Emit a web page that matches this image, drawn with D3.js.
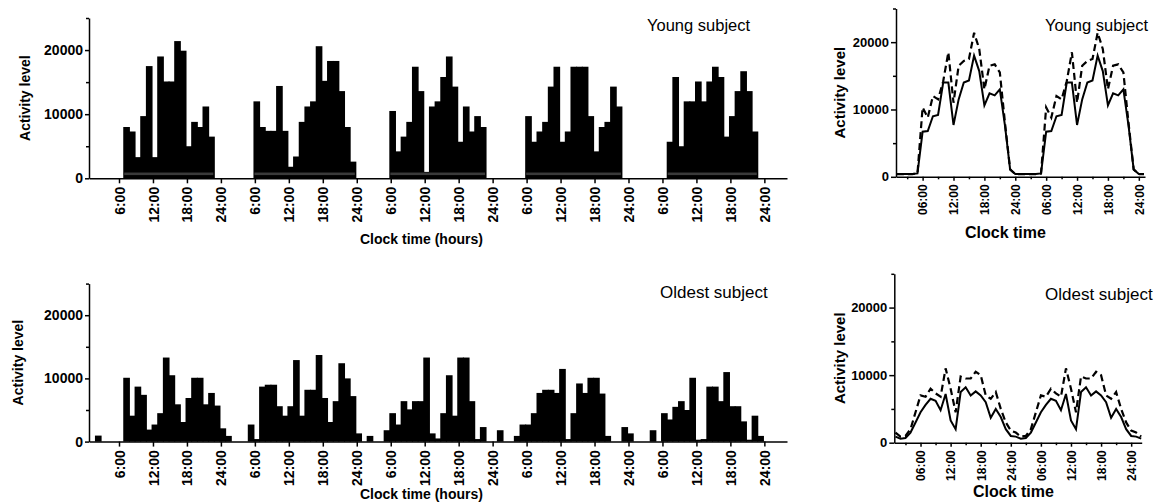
<!DOCTYPE html>
<html>
<head>
<meta charset="utf-8">
<script src="https://cdn.jsdelivr.net/npm/d3@7"></script>
<style>
  body { margin: 0; background: #fff; }
  text { font-family: Arial, "Liberation Sans", sans-serif; }
</style>
</head>
<body>
<div id="chart"></div>
<script>
// hourly activity, one array per day (index = clock hour 0..23)
const youngDay1 = [0,0,0,0,0,0,0,8000,7300,3300,9700,17500,3300,19000,15100,15100,21400,19900,5000,8800,8000,11200,6500,0];
const youngDay2 = [0,0,0,0,0,0,12000,8000,7400,7400,14400,7400,1800,3400,8800,11200,12000,20600,15200,18300,18300,13600,8000,2600];
const youngDay3 = [0,0,0,0,0,0,10500,4200,6500,8800,17400,13600,1000,11200,12000,15800,19000,14300,5700,11200,7300,9700,8000,0];
const youngDay4 = [0,0,0,0,0,0,9700,5700,7300,8800,14300,17400,5700,7300,17400,17400,17400,9700,4200,8000,8800,14300,11200,0];
const youngDay5 = [0,0,0,0,0,0,0,5700,15800,5000,12000,12000,15100,12000,15100,17400,15800,6500,9700,13600,16700,13600,7300,0];

const oldestDay1 = [0,0,950,0,0,0,0,10100,4100,8700,7400,1900,2700,4500,13300,10500,5900,3100,6900,10100,10100,5900,7700,5700];
const oldestDay2 = [2100,900,0,0,0,2700,400,8700,9000,9000,5600,4100,5600,12900,4100,8200,8200,13700,6900,3100,6400,12400,10000,7200];
const oldestDay3 = [1300,0,900,0,0,1800,4500,2700,6400,5100,6400,6400,13300,1300,500,4500,10500,4100,13300,13300,6400,400,2300,0];
const oldestDay4 = [0,1800,0,0,900,2700,2700,4500,7700,8200,8200,7700,11500,400,4500,9200,7700,10100,10100,7600,900,0,0,2300];
const oldestDay5 = [1300,0,0,0,1800,0,4500,3500,5500,6400,5000,10100,300,400,8700,8700,6400,11000,5600,5600,3200,300,4100,900];

// 24h profiles for the right panels (index = clock hour 0..23), plotted twice
const youngSolid  = [400,400,400,400,400,500,6700,6800,9000,9200,14000,14000,7700,11500,14000,14300,18000,15700,10600,12400,12100,13000,7600,1100];
const youngDashed = [400,400,400,400,400,500,10300,8800,12000,11500,14200,18500,11000,16500,17200,17500,21400,19000,13000,16500,16700,15500,8000,1100];
const oldestSolid  = [1000,900,600,700,1500,3000,4500,5600,6500,6200,4800,7200,3300,2000,7500,8200,7000,7600,7000,6000,3700,5000,3800,2000];
const oldestDashed = [1800,1500,900,1000,2000,4500,7000,6800,8000,7300,6800,11000,8000,4500,9800,9500,9500,10500,10000,7000,6500,7500,5000,3000];

const yTicks = [0, 5000, 10000, 15000, 20000, 25000];
const barTicks = d3.range(6, 121, 6);   // every 6 h over 5 days
const lineTicks = d3.range(3, 49, 3);   // every 3 h over 2 days

const youngHourly = youngDay1.concat(youngDay2, youngDay3, youngDay4, youngDay5);
const oldestHourly = oldestDay1.concat(oldestDay2, oldestDay3, oldestDay4, oldestDay5);

const svg = d3.select("#chart").append("svg")
    .attr("width", 1158)
    .attr("height", 502);

function styleAxis(g) {
    g.selectAll("path, line").attr("stroke", "#000").attr("stroke-width", 1.5);
    g.selectAll("text").attr("fill", "#000").attr("font-weight", "bold");
}

// left: hourly bar charts over 5 days
function barPanel(hourly, yBase, yTop, opts) {
    const x = d3.scaleLinear().domain([0.7, 124]).range([89, 787]);
    const y = d3.scaleLinear().domain([0, 25000]).range([yBase, yTop]);
    const g = svg.append("g");

    const bars = hourly.map((v, i) => ({ h: i, v: v })).filter(d => d.v > 0);
    // bars overlap by 1px so no white seams show between neighbours
    g.selectAll("rect.bar")
        .data(bars)
        .enter().append("rect")
        .attr("class", "bar")
        .attr("x", d => x(d.h - 0.25))
        .attr("width", d => x(d.h + 0.75) - x(d.h - 0.25) + 1)
        .attr("y", d => y(d.v))
        .attr("height", d => y(0) - y(d.v))
        .attr("fill", "#000");

    // grey strip near the bottom of each block of bars (young subject)
    if (opts.band) {
        const runs = [];
        hourly.forEach((v, i) => {
            if (v > 0 && (i === 0 || hourly[i - 1] === 0)) runs.push({ s: i, e: i });
            else if (v > 0) runs[runs.length - 1].e = i;
        });
        g.selectAll("rect.band")
            .data(runs)
            .enter().append("rect")
            .attr("class", "band")
            .attr("x", d => x(d.s - 0.25) + 1)
            .attr("width", d => x(d.e + 0.75) - x(d.s - 0.25) - 1.5)
            .attr("y", y(900))
            .attr("height", y(500) - y(900))
            .attr("fill", "#3a3a3a");
    }

    const yAxis = g.append("g")
        .attr("transform", `translate(${x(0.7)},0)`)
        .call(d3.axisLeft(y).tickValues(yTicks).tickSize(4).tickSizeOuter(0).tickPadding(2)
            .tickFormat(d => d % 10000 === 0 ? d : ""));
    yAxis.selectAll(".tick").filter(d => d % 10000 !== 0).select("line").attr("x2", -3);
    styleAxis(yAxis);
    yAxis.selectAll("text").attr("font-size", 14);

    const xAxis = g.append("g")
        .attr("transform", `translate(0,${yBase})`)
        .call(d3.axisBottom(x).tickValues(barTicks).tickSize(5).tickSizeOuter(0)
            .tickFormat(d => (d % 24 === 0 ? 24 : d % 24) + ":00"));
    styleAxis(xAxis);
    xAxis.selectAll("text")
        .attr("font-size", 14)
        .attr("transform", "rotate(-90)")
        .attr("text-anchor", "end")
        .attr("x", -8.5)
        .attr("y", 0)
        .attr("dy", "0.36em");

    g.append("text")
        .attr("transform", `translate(${opts.yLabelX},${(yBase + yTop) / 2}) rotate(-90)`)
        .attr("text-anchor", "middle")
        .attr("font-size", 14).attr("font-weight", "bold")
        .text("Activity level");

    g.append("text")
        .attr("x", 360).attr("y", opts.xLabelY)
        .attr("font-size", 14).attr("font-weight", "bold")
        .text("Clock time (hours)");

    g.append("text")
        .attr("x", opts.titleX).attr("y", opts.titleY)
        .attr("font-size", opts.titleSize)
        .text(opts.title);
}

// right: mean 24h profile drawn twice, solid and dashed
function linePanel(solid, dashed, yBase, yTop, opts) {
    const x = d3.scaleLinear().domain(opts.hours).range(opts.xRange);
    const y = d3.scaleLinear().domain([0, 25000]).range([yBase, yTop]);
    const g = svg.append("g");

    const hrs = d3.range(1, opts.last + 1);
    const line = d3.line().x(d => x(d.h)).y(d => y(d.v));
    const toPts = prof => hrs.map(h => ({ h: h, v: prof[h % 24] }));

    g.append("path")
        .datum(toPts(dashed))
        .attr("d", line)
        .attr("fill", "none")
        .attr("stroke", "#000")
        .attr("stroke-width", 2.2)
        .attr("stroke-dasharray", "7,4");

    g.append("path")
        .datum(toPts(solid))
        .attr("d", line)
        .attr("fill", "none")
        .attr("stroke", "#000")
        .attr("stroke-width", 2);

    const yAxis = g.append("g")
        .attr("transform", `translate(${opts.xRange[0]},0)`)
        .call(d3.axisLeft(y).tickValues(yTicks).tickSize(5).tickSizeOuter(0).tickPadding(2)
            .tickFormat(d => d % 10000 === 0 ? d : ""));
    yAxis.selectAll(".tick").filter(d => d % 10000 !== 0).select("line").attr("x2", -3);
    styleAxis(yAxis);
    yAxis.selectAll("text").attr("font-size", 13);

    const xAxis = g.append("g")
        .attr("transform", `translate(0,${yBase})`)
        .call(d3.axisBottom(x).tickValues(lineTicks).tickSize(4).tickSizeOuter(0)
            .tickFormat(d => d % 6 !== 0 ? "" : d3.format("02d")(d % 24 === 0 ? 24 : d % 24) + ":00"));
    xAxis.selectAll(".tick").filter(d => d % 6 !== 0).select("line").attr("y2", 2.5);
    styleAxis(xAxis);
    xAxis.selectAll("text")
        .attr("font-size", 12)
        .attr("transform", "rotate(-90)")
        .attr("text-anchor", "end")
        .attr("x", -7.5)
        .attr("y", 0)
        .attr("dy", "0.36em");

    g.append("text")
        .attr("transform", `translate(845,${(yBase + yTop) / 2}) rotate(-90)`)
        .attr("text-anchor", "middle")
        .attr("font-size", 15).attr("font-weight", "bold")
        .text("Activity level");

    g.append("text")
        .attr("x", opts.xLabelX).attr("y", opts.xLabelY)
        .attr("font-size", 16).attr("font-weight", "bold")
        .text("Clock time");

    g.append("text")
        .attr("x", 1045).attr("y", opts.titleY)
        .attr("font-size", opts.titleSize)
        .text(opts.title);
}

barPanel(youngHourly, 178.3, 18, {
    band: true, yLabelX: 30, xLabelY: 244, title: "Young subject", titleX: 647, titleY: 31, titleSize: 16.5
});
barPanel(oldestHourly, 441.6, 283.6, {
    band: false, yLabelX: 23, xLabelY: 499, title: "Oldest subject", titleX: 660, titleY: 298, titleSize: 17
});

linePanel(youngSolid, youngDashed, 176.8, 8.5, {
    hours: [0.83, 49.2], xRange: [896, 1145], last: 49,
    xLabelX: 965, xLabelY: 238, title: "Young subject", titleY: 31, titleSize: 16.5
});
linePanel(oldestSolid, oldestDashed, 442.7, 273.8, {
    hours: [0.77, 50.1], xRange: [894.3, 1141.7], last: 50,
    xLabelX: 973, xLabelY: 497, title: "Oldest subject", titleY: 300, titleSize: 17
});
</script>
</body>
</html>
